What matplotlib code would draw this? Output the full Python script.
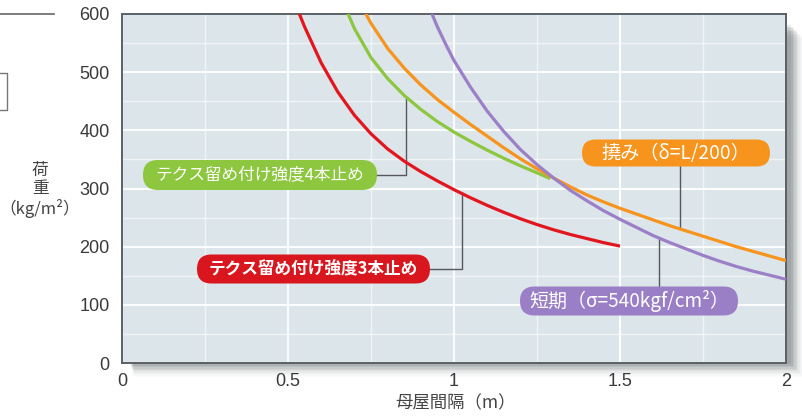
import numpy as np
import matplotlib
matplotlib.use("Agg")
import matplotlib.pyplot as plt
from matplotlib.lines import Line2D
from matplotlib.patches import Rectangle, FancyBboxPatch

plt.rcParams['font.family'] = ['Noto Sans CJK JP', 'DejaVu Sans']

# ---- data ----
red_x = [0.52, 0.55, 0.6, 0.65, 0.7, 0.75, 0.8, 0.85, 0.9, 0.95, 1.0, 1.05, 1.1,
         1.15, 1.2, 1.25, 1.3, 1.35, 1.4, 1.45, 1.5]
red_y = [620, 578, 516, 466, 426, 394, 368, 347, 329, 313, 298, 284, 271,
         259, 248, 238, 229, 221, 214, 207, 201]

green_x = [0.67, 0.7, 0.75, 0.8, 0.85, 0.9, 0.95, 1.0, 1.05, 1.1, 1.15, 1.2, 1.25, 1.29]
green_y = [615, 575, 525, 489, 460, 436, 415, 397, 381, 366, 352, 339, 327, 317]

orange_x = [0.73, 0.75, 0.8, 0.85, 0.9, 0.95, 1.0, 1.05, 1.1, 1.15, 1.2, 1.25, 1.3,
            1.35, 1.4, 1.45, 1.5, 1.55, 1.6, 1.65, 1.7, 1.75, 1.8, 1.85, 1.9, 1.95, 2.0]
orange_y = [605, 584, 541, 507, 478, 453, 431, 410, 390, 370, 351, 334, 318,
            303, 289, 277, 266, 256, 246, 236, 227, 218, 209, 200, 192, 184, 176]

purple_x = [0.93, 0.95, 0.975, 1.0, 1.05, 1.1, 1.15, 1.2, 1.25, 1.3, 1.35, 1.4,
            1.45, 1.5, 1.55, 1.6, 1.65, 1.7, 1.75, 1.8, 1.85, 1.9, 1.95, 2.0]
purple_y = [605, 578, 548, 520, 474, 433, 398, 367, 341, 318, 297, 279,
            262, 247, 233, 219, 207, 196, 185, 175, 166, 158, 151, 144]

x_ticks = [0, 0.5, 1, 1.5, 2]
x_ticklabels = ['0', '0.5', '1', '1.5', '2']
y_ticks = [0, 100, 200, 300, 400, 500, 600]

label_red = 'テクス留め付け強度3本止め'
label_green = 'テクス留め付け強度4本止め'
label_orange = '撓み（δ=L/200）'
label_purple = '短期（σ=540kgf/cm²）'

c_red = '#e2161f'
c_green = '#8dc63f'
c_orange = '#f7941d'
c_purple = '#9b80c8'

W, H = 803, 417
fig = plt.figure(figsize=(W / 100, H / 100), dpi=100)
fig.patch.set_facecolor('white')

ax_l, ax_r, ax_t, ax_b = 122, 786, 14, 363
pos = [ax_l / W, (H - ax_b) / H, (ax_r - ax_l) / W, (ax_b - ax_t) / H]

# drop shadow (right and bottom)
for i, a in enumerate([0.10, 0.09, 0.08, 0.07, 0.06, 0.05, 0.04, 0.03, 0.02, 0.015]):
    off = (i + 1) * 1.4
    fig.add_artist(Rectangle(((ax_l + 8 + off * 0.3) / W, (H - ax_b - off) / H),
                             (ax_r - ax_l - 4 + off * 0.7) / W, (ax_b - ax_t - 10) / H,
                             transform=fig.transFigure, facecolor='#303a40',
                             edgecolor='none', alpha=a, zorder=0))

ax = fig.add_axes(pos)
ax.set_zorder(2)
ax.set_facecolor('#dce5ea')
ax.set_xlim(0, 2)
ax.set_ylim(0, 600)

ax.set_xticks(x_ticks)
ax.set_xticklabels(x_ticklabels)
ax.set_yticks(y_ticks)
ax.set_xticks(np.arange(0, 2.01, 0.25), minor=True)
ax.set_yticks(np.arange(0, 601, 50), minor=True)
ax.grid(True, which='major', color='white', lw=1.5, alpha=0.9)
ax.grid(True, which='minor', color='white', lw=1.0, alpha=0.6)
ax.set_axisbelow(True)
ax.tick_params(which='both', length=0)
ax.tick_params(axis='x', pad=7, labelsize=13, labelcolor='#3a3a3a')
ax.tick_params(axis='y', pad=9, labelsize=13, labelcolor='#3a3a3a')
for lab in ax.get_xticklabels() + ax.get_yticklabels():
    lab.set_family(['Liberation Sans', 'DejaVu Sans'])
for s in ax.spines.values():
    s.set_color('#5a6066')
    s.set_linewidth(1.4)

lw = 2.3
ax.plot(red_x, red_y, color=c_red, lw=lw, solid_capstyle='butt', zorder=3)
ax.plot(green_x, green_y, color=c_green, lw=lw, solid_capstyle='butt', zorder=3)
ax.plot(orange_x, orange_y, color=c_orange, lw=lw, solid_capstyle='butt', zorder=3)
ax.plot(purple_x, purple_y, color=c_purple, lw=lw, solid_capstyle='butt', zorder=4)

inv = ax.transData.inverted()


def pix2data(px, py):
    return inv.transform((px, H - py))


# pill labels: (centre px, centre py, width, height)
pills = [
    (260, 175, 234, 30, label_green, c_green, 12, 'normal', 406, green_x, green_y),
    (313.5, 269, 233, 29, label_red, '#d9151e', 12, 'bold', 461.5, red_x, red_y),
    (676, 153, 188, 27, label_orange, c_orange, 13.8, 'normal', 680, orange_x, orange_y),
    (629, 301, 218, 29, label_purple, '#9b7fc6', 13.7, 'normal', 659, purple_x, purple_y),
]
cc = '#55595e'
for cx, cy, w, h, txt, fc, fs, wt, conn_px, sx, sy in pills:
    p = FancyBboxPatch(((cx - w / 2) / 100, (H - cy - h / 2) / 100), w / 100, h / 100,
                       boxstyle='round,pad=0,rounding_size=%f' % (h / 200),
                       transform=fig.dpi_scale_trans, fc=fc, ec='none', zorder=5)
    fig.add_artist(p)
    fig.text(cx / 100, (H - cy) / 100, txt, transform=fig.dpi_scale_trans,
             ha='center', va='center', fontsize=fs, color='white',
             fontweight=wt, zorder=6)
    bx, by = pix2data(cx, cy)
    kx, _ = pix2data(conn_px, cy)
    ky = np.interp(kx, sx, sy)
    ax.plot([bx, kx, kx], [by, by, ky], color=cc, lw=1.0, zorder=2.5)

# axis labels
fig.text(40 / W, 1 - 190 / H, '荷\n重\n（kg/m²）', ha='center', va='center',
         fontsize=12, color='#444444', linespacing=1.12)
fig.text(456 / W, 1 - 403 / H, '母屋間隔（m）', ha='center', va='center',
         fontsize=12.5, color='#444444')

# cropped artifacts at the left edge of the reference
fig.add_artist(Line2D([0, 54 / W], [1 - 14 / H, 1 - 14 / H], transform=fig.transFigure,
                      color='#666666', lw=1.2))
fig.add_artist(Line2D([0, 7 / W, 7 / W, 0], [1 - 73 / H, 1 - 73 / H, 1 - 110 / H, 1 - 110 / H],
                      transform=fig.transFigure, color='#777777', lw=1.0))

fig.savefig('out.png', dpi=100)
